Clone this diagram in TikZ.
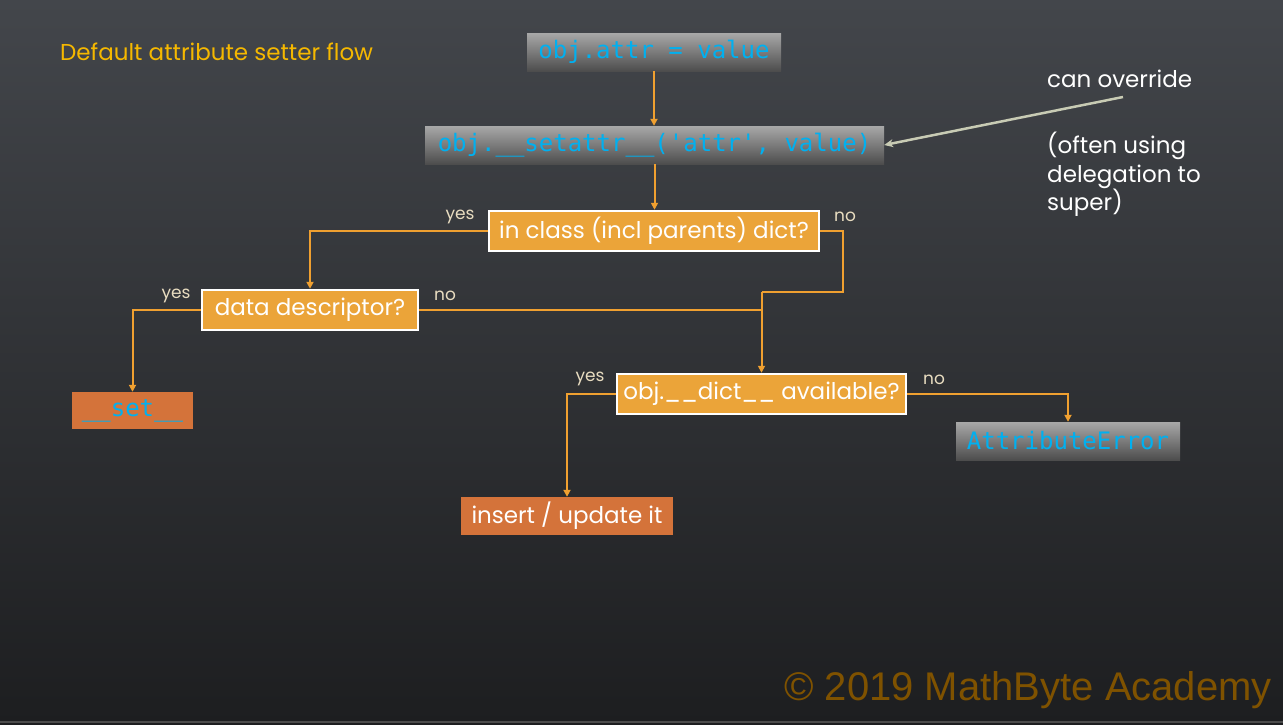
\documentclass[tikz,border=0pt]{standalone}
\usepackage{fontspec}
\setmainfont{Poppins}
\setmonofont{DejaVu Sans Mono}
\newfontfamily\arialf{Liberation Sans}
\usetikzlibrary{arrows.meta}
\definecolor{bgtop}{HTML}{43464B}
\definecolor{bgbot}{HTML}{1D1E20}
\definecolor{codecyan}{HTML}{00B0F0}
\definecolor{flowor}{HTML}{EBA439}
\definecolor{termor}{HTML}{D4733A}
\definecolor{lineor}{HTML}{F0A030}
\definecolor{lbl}{HTML}{E8DCC0}
\definecolor{titley}{HTML}{F5B800}
\definecolor{noteg}{HTML}{C8CBB4}
\definecolor{copyc}{HTML}{7F5200}
\definecolor{gtop}{HTML}{A8A8A8}
\definecolor{gbot}{HTML}{4D4D4D}
\tikzset{
  codebox/.style={inner sep=0pt, text=codecyan, top color=gtop, bottom color=gbot,
    font=\ttfamily\fontsize{24}{24}\selectfont},
  decbox/.style={inner sep=0pt, fill=flowor, draw=white, line width=2.5pt, text=white,
    font=\fontsize{23}{23}\selectfont},
  termbox/.style={inner sep=0pt, fill=termor, text=white, font=\fontsize{23}{23}\selectfont},
  flow/.style={draw=lineor, line width=2pt, -{Triangle[length=7pt,width=7pt]}},
  flowline/.style={draw=lineor, line width=2pt},
  lab/.style={text=lbl, font=\fontsize{17}{17}\selectfont, inner sep=0pt},
  note/.style={text=white, font=\fontsize{23}{28.5}\selectfont, inner sep=0pt, align=left}
}
\begin{document}
\begin{tikzpicture}[x=1pt,y=-1pt]
\useasboundingbox (0,0) rectangle (1283,724);
\shade[top color=bgtop, bottom color=bgbot] (0,0) rectangle (1283,724);
\draw[gray!60!black, line width=1.5pt] (0,722) -- (1283,722);

\node[text=titley, font=\fontsize{23}{23}\selectfont, anchor=west, inner sep=0pt] (title) at (60,52) {Default attribute setter flow};

\node[codebox, minimum width=254pt, minimum height=38pt] (b1) at (654,52) {obj.attr = value};
\node[codebox, minimum width=459pt, minimum height=38pt] (b2) at (654.5,145) {obj.\_\_setattr\_\_('attr', value)};
\node[decbox, minimum width=330pt, minimum height=40pt] (b3) at (654,231) {in class (incl parents) dict?};
\node[decbox, minimum width=216pt, minimum height=40pt] (b4) at (310,310) {data descriptor?};
\node[termbox, minimum width=121pt, minimum height=37pt, text=codecyan, font=\ttfamily\fontsize{24}{24}\selectfont] (set) at (132.5,410.5) {\_\_set\_\_};
\node[decbox, minimum width=289pt, minimum height=40pt] (b5) at (761.5,394) {obj.\_\_dict\_\_ available?};
\node[termbox, minimum width=212pt, minimum height=38pt] (ins) at (567,516) {insert / update it};
\node[codebox, minimum width=224pt, minimum height=38pt] (ae) at (1068,441) {AttributeError};

\node[lab] (y1) at (460,217) {yes};
\node[lab] (n1) at (845,217) {no};
\node[lab] (y2) at (176,296) {yes};
\node[lab] (n2) at (445,296) {no};
\node[lab] (y3) at (590,379) {yes};
\node[lab] (n3) at (934,380) {no};

\node[note, anchor=west] (co) at (1047,79) {can override};
\node[note, anchor=north west] (deleg) at (1047,132) {(often using\\delegation to\\super)};

\coordinate (r) at (843,292);
\coordinate (j) at (b5.north |- r);
\coordinate (arrstart) at (1123,97);

\draw[flow] (b1.south) -- (b1.south |- b2.north);
\draw[flow] (b2.south) -- (b2.south |- b3.north);
\draw[flow] (b3.west) -| (b4.north);
\draw[flow] (b4.west) -| (set.north);
\draw[flowline] (b3.east) -| (r) -- (j);
\draw[flow] (j) -- (b5.north);
\draw[flowline] (b4.east) -- (b4.east -| j);
\draw[flow] (b5.west) -| (ins.north);
\draw[flow] (b5.east) -| (ae.north);
\draw[draw=noteg, line width=2.5pt, -{Stealth[length=9pt,width=8pt]}] (arrstart) -- (b2.east);

\node[text=copyc, font=\arialf\fontsize{40}{40}\selectfont, anchor=east, inner sep=0pt] (copy) at (1272,690) {© 2019 MathByte Academy};
\end{tikzpicture}
\end{document}
